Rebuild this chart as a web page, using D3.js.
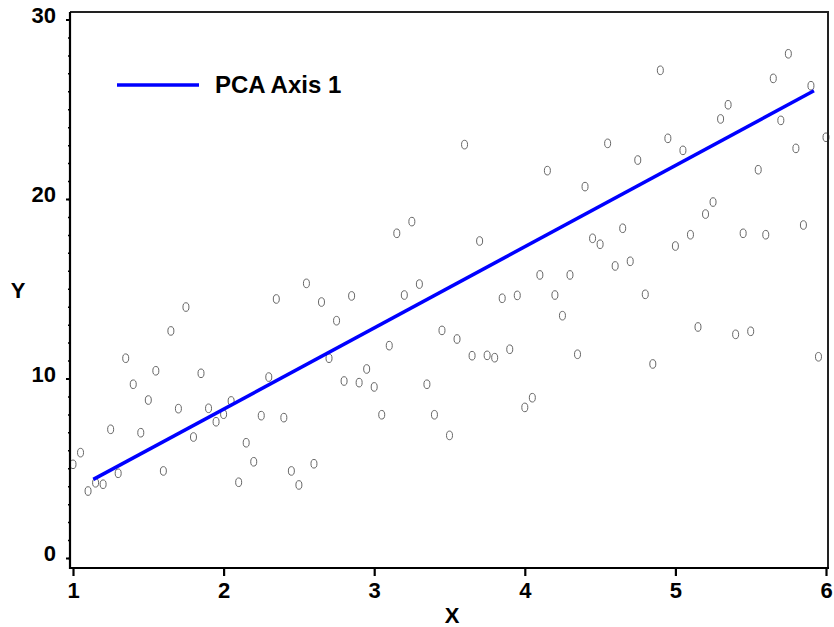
<!DOCTYPE html>
<html>
<head>
<meta charset="utf-8">
<script src="https://cdn.jsdelivr.net/npm/d3@7/dist/d3.min.js"></script>
<style>
  html, body { margin: 0; padding: 0; background: #fff; }
  svg { display: block; }
  text { font-family: "Liberation Sans", Arial, sans-serif; font-weight: bold; fill: #000; }
</style>
</head>
<body>
<svg id="chart" width="834" height="627"></svg>
<script>
// ---- Data ----
const xValues = [
  1.00,1.05,1.10,1.15,1.20,1.25,1.30,1.35,1.40,1.45,
  1.50,1.55,1.60,1.65,1.70,1.75,1.80,1.85,1.90,1.95,
  2.00,2.05,2.10,2.15,2.20,2.25,2.30,2.35,2.40,2.45,
  2.50,2.55,2.60,2.65,2.70,2.75,2.80,2.85,2.90,2.95,
  3.00,3.05,3.10,3.15,3.20,3.25,3.30,3.35,3.40,3.45,
  3.50,3.55,3.60,3.65,3.70,3.75,3.80,3.85,3.90,3.95,
  4.00,4.05,4.10,4.15,4.20,4.25,4.30,4.35,4.40,4.45,
  4.50,4.55,4.60,4.65,4.70,4.75,4.80,4.85,4.90,4.95,
  5.00,5.05,5.10,5.15,5.20,5.25,5.30,5.35,5.40,5.45,
  5.50,5.55,5.60,5.65,5.70,5.75,5.80,5.85,5.90,5.95,
  6.00
];
const yValues = [
  5.22,5.87,3.73,4.19,4.11,7.17,4.72,11.13,9.68,6.98,
  8.80,10.43,4.85,12.65,8.32,13.98,6.74,10.29,8.34,7.59,
  8.01,8.75,4.22,6.42,5.36,7.93,10.08,14.43,7.82,4.85,
  4.07,15.30,5.25,14.26,11.13,13.22,9.86,14.60,9.77,10.53,
  9.53,7.98,11.83,18.09,14.65,18.74,15.26,9.68,7.98,12.68,
  6.83,12.20,23.03,11.27,17.66,11.29,11.16,14.47,11.63,14.63,
  8.39,8.93,15.77,21.58,14.65,13.50,15.77,11.35,20.69,17.81,
  17.48,23.10,16.27,18.37,16.53,22.17,14.69,10.81,27.17,23.38,
  17.38,22.71,18.01,12.87,19.16,19.83,24.46,25.25,12.46,18.09,
  12.63,21.63,18.01,26.72,24.38,28.09,22.82,18.55,26.31,11.21,
  23.44
];
// PCA axis 1 segment endpoints [x, y]
const pcaLineX = [1.135, 5.92];
const pcaLineY = [4.38, 26.03];
const legendLabel = "PCA Axis 1";
const xTicks = [1, 2, 3, 4, 5, 6];
const yTicks = [0, 10, 20, 30];
const yMinorTicks = d3.range(0, 31, 1);
const xTitle = "X";
const yTitle = "Y";

// ---- Layout ----
const svg = d3.select("#chart");
const frame = { left: 70, right: 828, top: 12, bottom: 568 };

const x = d3.scaleLinear().domain([1, 6]).range([73, 826]);
const y = d3.scaleLinear().domain([0, 30]).range([558, 19.5]);

// Points
svg.append("g")
  .selectAll("ellipse")
  .data(xValues.map((v, i) => [v, yValues[i]]))
  .join("ellipse")
  .attr("cx", d => x(d[0]))
  .attr("cy", d => y(d[1]))
  .attr("rx", 3)
  .attr("ry", 4.3)
  .attr("fill", "none")
  .attr("stroke", "#666")
  .attr("stroke-width", 1);

// PCA line
svg.append("line")
  .attr("x1", x(pcaLineX[0])).attr("y1", y(pcaLineY[0]))
  .attr("x2", x(pcaLineX[1])).attr("y2", y(pcaLineY[1]))
  .attr("stroke", "#0000ff")
  .attr("stroke-width", 3.5);

// Frame (top & right)
svg.append("path")
  .attr("d", `M${frame.left},${frame.top}H${frame.right}V${frame.bottom}`)
  .attr("fill", "none")
  .attr("stroke", "#222")
  .attr("stroke-width", 2);

// X axis
const xAxis = d3.axisBottom(x).tickValues(xTicks).tickFormat(d3.format("d"))
  .tickSize(8).tickPadding(6);
const gx = svg.append("g").attr("transform", `translate(0,${frame.bottom})`).call(xAxis);
gx.select(".domain").remove();
gx.append("line").attr("x1", frame.left).attr("x2", frame.right + 1)
  .attr("stroke", "#000").attr("stroke-width", 2.2);
gx.selectAll(".tick line").attr("stroke", "#000").attr("stroke-width", 2.2);
gx.selectAll(".tick text").attr("font-size", 22).attr("font-family", "Liberation Sans, Arial, sans-serif")
  .attr("font-weight", "bold").attr("fill", "#000").attr("dy", "0.72em");

// Y axis minor ticks
const yMinor = d3.axisLeft(y).tickValues(yMinorTicks).tickSize(2).tickFormat("");
const gym = svg.append("g").attr("transform", `translate(${frame.left},0)`).call(yMinor);
gym.select(".domain").remove();
gym.selectAll(".tick line").attr("stroke", "#000").attr("stroke-width", 1.5);

// Y axis
const yAxis = d3.axisLeft(y).tickValues(yTicks).tickFormat(d3.format("d"))
  .tickSize(4).tickPadding(10);
const gy = svg.append("g").attr("transform", `translate(${frame.left},0)`).call(yAxis);
gy.select(".domain").remove();
gy.append("line").attr("y1", frame.top).attr("y2", frame.bottom + 1)
  .attr("stroke", "#000").attr("stroke-width", 2.2);
gy.selectAll(".tick line").attr("stroke", "#000").attr("stroke-width", 2);
gy.selectAll(".tick text").attr("font-size", 22).attr("font-family", "Liberation Sans, Arial, sans-serif")
  .attr("font-weight", "bold").attr("fill", "#000").attr("dy", "0.12em");

// Axis titles
svg.append("text").attr("x", 452).attr("y", 623).attr("text-anchor", "middle")
  .attr("font-size", 22).text(xTitle);
svg.append("text").attr("x", 18).attr("y", 298).attr("text-anchor", "middle")
  .attr("font-size", 22).text(yTitle);

// Legend
svg.append("line").attr("x1", 117).attr("x2", 199).attr("y1", 85).attr("y2", 85)
  .attr("stroke", "#0000ff").attr("stroke-width", 3.5);
svg.append("text").attr("x", 215).attr("y", 92.5).attr("font-size", 24).text(legendLabel);
</script>
</body>
</html>
